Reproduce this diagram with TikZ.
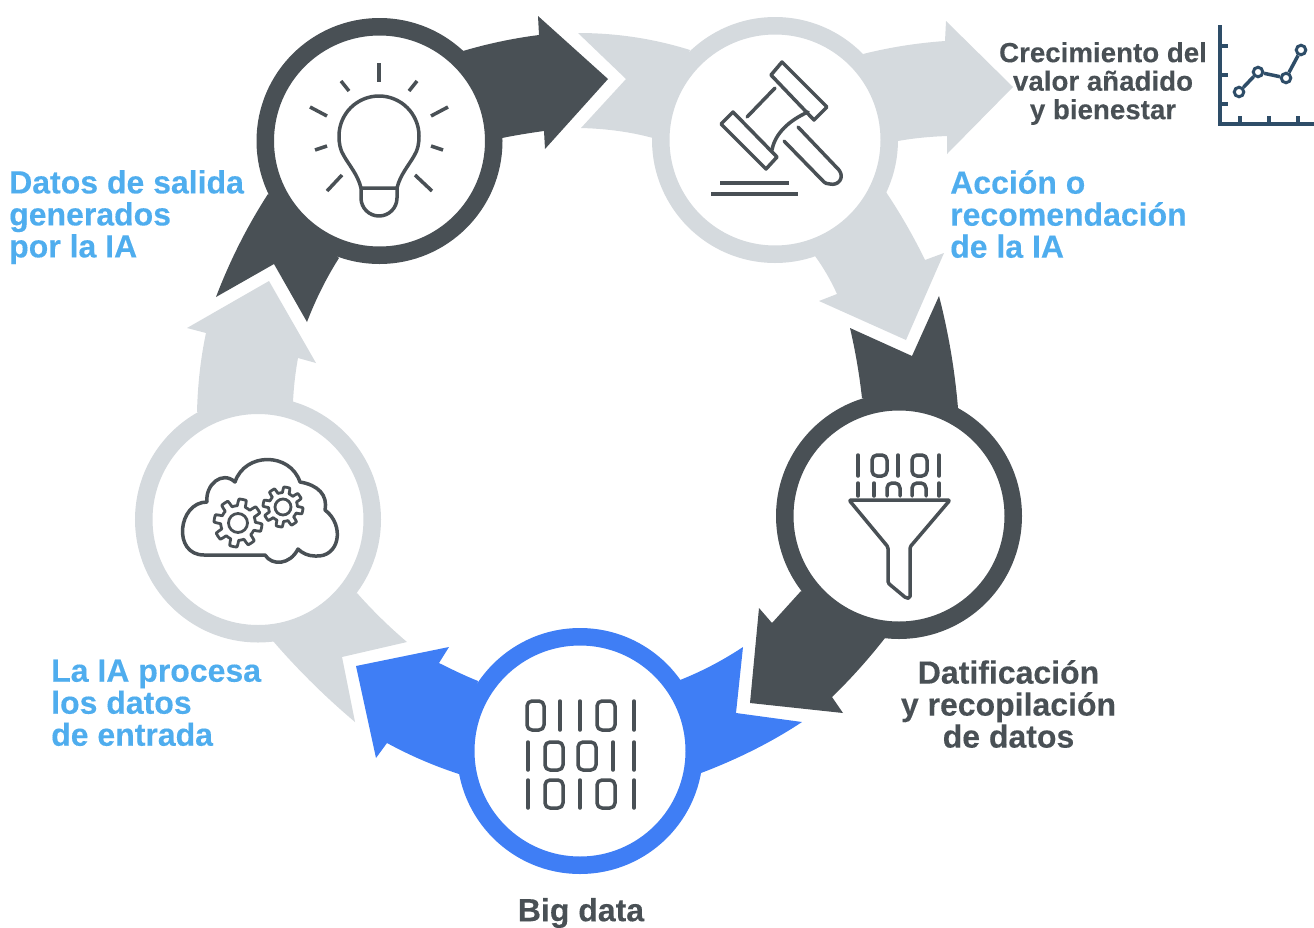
\documentclass[tikz,border=0pt]{standalone}
\usepackage{fontspec}
\setmainfont[FakeBold=0.25]{Liberation Sans}
\definecolor{darkc}{HTML}{495055}
\definecolor{greyc}{HTML}{D5DADE}
\definecolor{bluec}{HTML}{3F7EF5}
\definecolor{skyc}{HTML}{4FADEE}
\definecolor{navyc}{HTML}{2E4D68}
\tikzset{
    CC1/.style ={circle,minimum size=228.5pt,inner sep=0pt,outer sep=0pt,line width=17.5pt,fill=white,draw=darkc},
    CC2/.style ={CC1,draw=greyc},
    CC3/.style ={CC1,draw=bluec},
    CC4/.style ={circle,minimum size=9.5pt,inner sep=0pt,line width=3pt,fill=white,draw=navyc},
    AR1/.style ={fill=darkc},
    AR2/.style ={fill=greyc},
    AR3/.style ={fill=bluec},
    IC/.style ={draw=darkc,line width=3.5pt,line cap=round,line join=round},
    ICT/.style ={IC,line width=2.8pt},
    CH/.style ={draw=navyc,line width=3.5pt},
    TX1/.style ={font=\fontsize{32}{32}\selectfont\bfseries,text=skyc,align=left,anchor=north west,inner sep=0pt},
    TX2/.style ={font=\fontsize{32}{32}\selectfont\bfseries,text=darkc,align=center,inner sep=0pt},
    TX3/.style ={font=\fontsize{27.7}{28.5}\selectfont\bfseries,text=darkc,align=center,inner sep=0pt}}
\newcommand{\ZR}[4]{\draw[IC,rounded corners=5pt] (#1,#2) rectangle (#3,#4);}
\newcommand{\GR}[3]{\draw[ICT] plot[smooth cycle,domain=0:357.5,samples=144] ({#1+(#3*0.86+#3*0.14*max(-1,min(1,3*sin(8*\x))))*cos(\x)},{#2+(#3*0.86+#3*0.14*max(-1,min(1,3*sin(8*\x))))*sin(\x)});}
\begin{document}
\begin{tikzpicture}[x=1pt,y=-1pt]
        \useasboundingbox (0,0) rectangle (1314,927);
        \fill[AR1] (463,51) .. controls (487.7,43.7) and (513,38.3) .. (539,35) -- (538,16) -- (608,79) -- (545,149) -- (544,131) .. controls (529.3,133) and (515.3,135.3) .. (502,138) -- cycle;
        \fill[AR1] (268,194) .. controls (247.3,226) and (230,260.3) .. (216,297) -- (274,264) -- (307,322) .. controls (315.7,299.3) and (326.3,278) .. (339,258) -- cycle;
        \fill[AR2] (197,412) .. controls (197.7,384) and (200.7,357.7) .. (206,333) -- (187,328) -- (269,281) -- (316,363) -- (298,358) .. controls (295.3,372.7) and (293.7,387.3) .. (293,402) -- cycle;
        \fill[AR2] (578,33) .. controls (616.7,33) and (654,38.7) .. (690,50) -- (653,138) .. controls (631,132) and (607,128.7) .. (581,128) -- (626,79) -- cycle;
        \fill[AR2] (863,54) .. controls (889.7,47.3) and (917,43) .. (945,41) -- (946,21) -- (1013,87) -- (947,154) -- (947,136) .. controls (929,136.7) and (912.7,138.3) .. (898,141) -- cycle;
        \fill[AR2] (886,192) .. controls (900.7,214) and (913.7,236.7) .. (925,260) -- (944,253) -- (906,340) -- (819,301) -- (837,294) .. controls (831,280.7) and (823.7,268) .. (815,256) -- cycle;
        \fill[AR1] (862,398) .. controls (859.3,374) and (855.3,350.7) .. (850,328) -- (912,356) -- (939,296) .. controls (948.3,332) and (954.7,369.3) .. (958,408) -- cycle;
        \fill[AR1] (801,591) -- (772,623) -- (759,608) -- (750,703) -- (843,713) -- (832,697) .. controls (850.7,679) and (868.3,659.3) .. (885,638) -- cycle;
        \fill[AR3] (680,680) .. controls (702,671.3) and (723,660.3) .. (743,647) -- (736,713) -- (802,722) .. controls (770.7,742.7) and (737,759.3) .. (701,773) -- cycle;
        \fill[AR3] (478,681) .. controls (464.7,675.7) and (451.7,669.3) .. (439,663) -- (449,647) -- (356,666) -- (376,758) -- (387,743) .. controls (410.3,755.7) and (434.3,766) .. (459,774) -- cycle;
        \fill[AR2] (357,593) .. controls (372.3,610.3) and (389,626.7) .. (407,642) -- (342,657) -- (355,722) .. controls (325.7,697.3) and (298.3,670.3) .. (273,641) -- cycle;
        \node[CC1] (bulb) at (379.5,141){};
        \node[CC2] (gavel) at (775,140){};
        \node[CC1] (funnel) at (899,516){};
        \node[CC3] (bigdata) at (580,751){};
        \node[CC2] (cloud) at (258,519.5){};
        \draw[IC,line cap=butt] (379,63) -- (379,82);
        \draw[IC,line cap=butt] (341,81) -- (349,91);
        \draw[IC,line cap=butt] (417,81) -- (409,91);
        \draw[IC,line cap=butt] (310,107) -- (327,116);
        \draw[IC,line cap=butt] (448,107) -- (431,116);
        \draw[IC,line cap=butt] (315,150) -- (327,146);
        \draw[IC,line cap=butt] (443,150) -- (431,146);
        \draw[IC,line cap=butt] (327,191) -- (342,175);
        \draw[IC,line cap=butt] (432,191) -- (415,175);
        \draw[IC] (361,188) .. controls (358,175) and (349,165) .. (344,156) .. controls (340,150) and (339,143) .. (339,136) arc[start angle=180,end angle=360,radius=40] .. controls (419,143) and (418,150) .. (414,156) .. controls (409,165) and (400,175) .. (397,188) -- cycle;
        \draw[IC] (361,188) -- (361,198) arc[start angle=180,end angle=0,radius=18] -- (397,188);
        \draw[IC] (782,62) -- (827,107) -- (814,120) -- (771,75) -- cycle;
        \draw[IC] (733,112) -- (777,157) -- (766,169) -- (721,124) -- cycle;
        \draw[IC] (775,88) -- (747,117);
        \draw[IC] (808,112) .. controls (790,120) and (775,133) .. (772,150);
        \draw[IC] (798,127) -- (839,170) .. controls (845,178) and (838,186) .. (830,184) .. controls (827,184) and (825,183) .. (824,182) -- (784,141);
        \draw[IC,line cap=butt] (720,183) -- (789,183);
        \draw[IC,line cap=butt] (711,194) -- (798,194);
        \draw[IC] (265,555) -- (204,555) .. controls (172,555) and (178,502) .. (207,502) .. controls (205,485) and (222,470) .. (235,482) .. controls (245,452) and (290,452) .. (300,482) .. controls (318,485) and (328,495) .. (325,510) .. controls (345,525) and (340,558) .. (315,556) .. controls (308,556) and (302,553) .. (298,549) .. controls (290,565) and (272,566) .. (265,555) -- cycle;
        \GR{238}{523}{24}
        \GR{283}{507}{20}
        \draw[ICT] (238,523) circle (9.5);
        \draw[ICT] (283,507) circle (8);
        \foreach \x in {858,898,939}
            \draw[IC] (\x,455) -- (\x,476);
        \ZR{872}{455}{887}{476}
        \ZR{912}{455}{927}{476}
        \foreach \x in {858,874,939}
            \draw[IC] (\x,483) -- (\x,496);
        \draw[IC,rounded corners=5pt] (887,496) -- (887,483) -- (900,483) -- (900,496);
        \draw[IC,rounded corners=5pt] (912,496) -- (912,483) -- (926,483) -- (926,496);
        \draw[IC,rounded corners=1.5pt] (849,500) -- (950,500) -- (910,547) -- (910,598) -- (906,598) -- (888,583) -- (888,547) -- cycle;
        \foreach \x in {560,580,634}
            \draw[IC] (\x,701) -- (\x,730);
        \ZR{527}{701}{544}{730}
        \ZR{597}{701}{615}{730}
        \foreach \x in {528,613,634}
            \draw[IC] (\x,742) -- (\x,770);
        \ZR{545}{742}{563}{770}
        \ZR{578}{742}{596}{770}
        \foreach \x in {528,580,634}
            \draw[IC] (\x,780) -- (\x,808);
        \ZR{545}{780}{563}{808}
        \ZR{597}{780}{615}{808}
        \draw[CH] (1220,25) -- (1220,124) -- (1314,124);
        \draw[CH] (1220,46) -- (1228,46);
        \draw[CH] (1220,75) -- (1228,75);
        \draw[CH] (1220,104) -- (1228,104);
        \draw[CH] (1240,124) -- (1240,116);
        \draw[CH] (1269,124) -- (1269,116);
        \draw[CH] (1298,124) -- (1298,116);
        \node[CC4] (p1) at (1239,92){};
        \node[CC4] (p2) at (1258,72){};
        \node[CC4] (p3) at (1286,78){};
        \node[CC4] (p4) at (1301,50){};
        \draw[CH] (p1) -- (p2);
        \draw[CH] (p2) -- (p3);
        \draw[CH] (p3) -- (p4);
        \node[TX3] (growth) at (1103,83.5){Crecimiento del\\valor añadido\\y bienestar};
        \node[TX1] (output) at (9,170){Datos de salida\\generados\\por la IA};
        \node[TX1] (action) at (950,170){Acción o\\recomendación\\de la IA};
        \node[TX1] (process) at (51,659.5){La IA procesa\\los datos\\de entrada};
        \node[TX2] (datafy) at (1008.5,704){Datificación\\y recopilación\\de datos};
        \node[TX2] (bigtext) at (581,913){Big data};
    \end{tikzpicture}
\end{document}
